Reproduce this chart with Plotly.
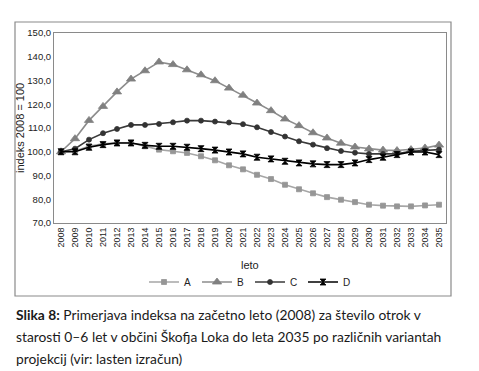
import plotly.graph_objects as go

years = [str(y) for y in range(2008, 2036)]
series_a = [100.0, 100.3, 102.3, 103.3, 103.8, 103.8, 102.3, 100.9, 100.2, 99.5, 98.1, 96.4, 94.3, 92.6,
            90.3, 88.5, 86.1, 84.2, 82.5, 80.9, 79.8, 78.8, 77.7, 77.3, 77.0, 77.0, 77.4, 77.7]
series_b = [100.0, 105.5, 113.2, 119.1, 125.2, 130.6, 134.1, 137.8, 136.7, 134.5, 132.4, 129.9, 126.8, 123.8,
            120.5, 117.3, 113.8, 111.0, 108.0, 105.8, 103.6, 102.0, 101.2, 100.7, 100.5, 100.9, 101.6, 102.8]
series_c = [100.0, 101.3, 105.1, 107.8, 109.6, 111.3, 111.3, 111.7, 112.4, 113.1, 113.1, 112.7, 112.3, 111.6,
            110.3, 108.3, 106.4, 104.4, 103.0, 101.5, 100.3, 99.6, 99.1, 99.1, 99.1, 100.2, 100.5, 100.9]
series_d = [100.0, 100.0, 101.9, 103.0, 103.7, 103.7, 102.7, 102.3, 102.3, 101.9, 101.3, 100.7, 99.9, 99.1,
            97.7, 97.0, 96.0, 95.3, 94.9, 94.6, 94.6, 95.3, 96.7, 97.7, 98.8, 99.9, 99.9, 98.8]
names = ["A", "B", "C", "D"]
y_ticks = [70, 80, 90, 100, 110, 120, 130, 140, 150]

styles = [
    dict(line="#a6a6a6", marker="#969696", symbol="square", size=5),
    dict(line="#8c8c8c", marker="#808080", symbol="triangle-up", size=8),
    dict(line="#3a3a3a", marker="#333333", symbol="circle", size=5),
    dict(line="#000000", marker="#000000", symbol="hourglass", size=6),
]

fig = go.Figure()
for name, vals, st in zip(names, [series_a, series_b, series_c, series_d], styles):
    fig.add_trace(go.Scatter(
        x=years, y=vals, name=name, mode="lines+markers",
        line=dict(color=st["line"], width=1.6),
        marker=dict(color=st["marker"], symbol=st["symbol"], size=st["size"],
                    line=dict(width=0.8, color=st["marker"])),
    ))

W, H = 479, 371
L, R, T, B = 46, 438, 25, 215
pw, ph = R - L, B - T


def px(x):
    return (x - L) / pw


def py(y):
    return (B - y) / ph


small = "Liberation Sans Narrow, Arial Narrow, Liberation Sans, sans-serif"

fig.update_layout(
    width=W, height=H,
    margin=dict(l=L, r=W - R, t=T, b=H - B, autoexpand=False),
    paper_bgcolor="white", plot_bgcolor="white",
    separators=",.",
    showlegend=True,
    legend=dict(orientation="h", x=0.5, xanchor="center", y=py(274), yanchor="middle",
                font=dict(family=small, size=10, color="#222"),
                itemwidth=30, entrywidth=8, entrywidthmode="pixels",
                tracegroupgap=0, bgcolor="rgba(0,0,0,0)"),
    xaxis=dict(type="category", tickangle=-90, showgrid=False, showline=True, mirror=True,
               linecolor="#8a8a8a", linewidth=1, ticks="", automargin=False,
               tickfont=dict(family=small, size=9, color="#222"),
               range=[-0.5, 27.5]),
    yaxis=dict(range=[70, 150], tickvals=y_ticks, tickformat=".1f", showgrid=False, showline=True,
               mirror=True, linecolor="#8a8a8a", linewidth=1, ticks="", automargin=False,
               tickfont=dict(family=small, size=9.5, color="#222")),
    font=dict(family=small, color="#222"),
)

# axis titles
fig.add_annotation(text="indeks 2008 = 100", xref="paper", yref="paper", x=px(12), y=0.5,
                   textangle=-90, showarrow=False, xanchor="center", yanchor="middle",
                   font=dict(family=small, size=11, color="#222"))
fig.add_annotation(text="leto", xref="paper", yref="paper", x=0.5, y=py(257),
                   showarrow=False, xanchor="center", yanchor="middle",
                   font=dict(family=small, size=11, color="#222"))

# outer frame
fig.add_shape(type="rect", xref="paper", yref="paper",
              x0=px(7), x1=px(443), y0=py(288), y1=py(14),
              line=dict(color="#8a8a8a", width=1.2), fillcolor="rgba(0,0,0,0)", layer="below")

cap = "Lato, Noto Sans, sans-serif"
lines = [
    "<b>Slika 8:</b> Primerjava indeksa na začetno leto (2008) za število otrok v",
    "starosti 0–6 let v občini Škofja Loka do leta 2035 po različnih variantah",
    "projekcij (vir: lasten izračun)",
]
for i, t in enumerate(lines):
    fig.add_annotation(text=t, xref="paper", yref="paper", x=px(6), y=py(306 + 22 * i),
                       xanchor="left", yanchor="middle", showarrow=False, align="left",
                       font=dict(family=cap, size=13.8, color="#1a1a1a"))

fig.write_html("out.html")
